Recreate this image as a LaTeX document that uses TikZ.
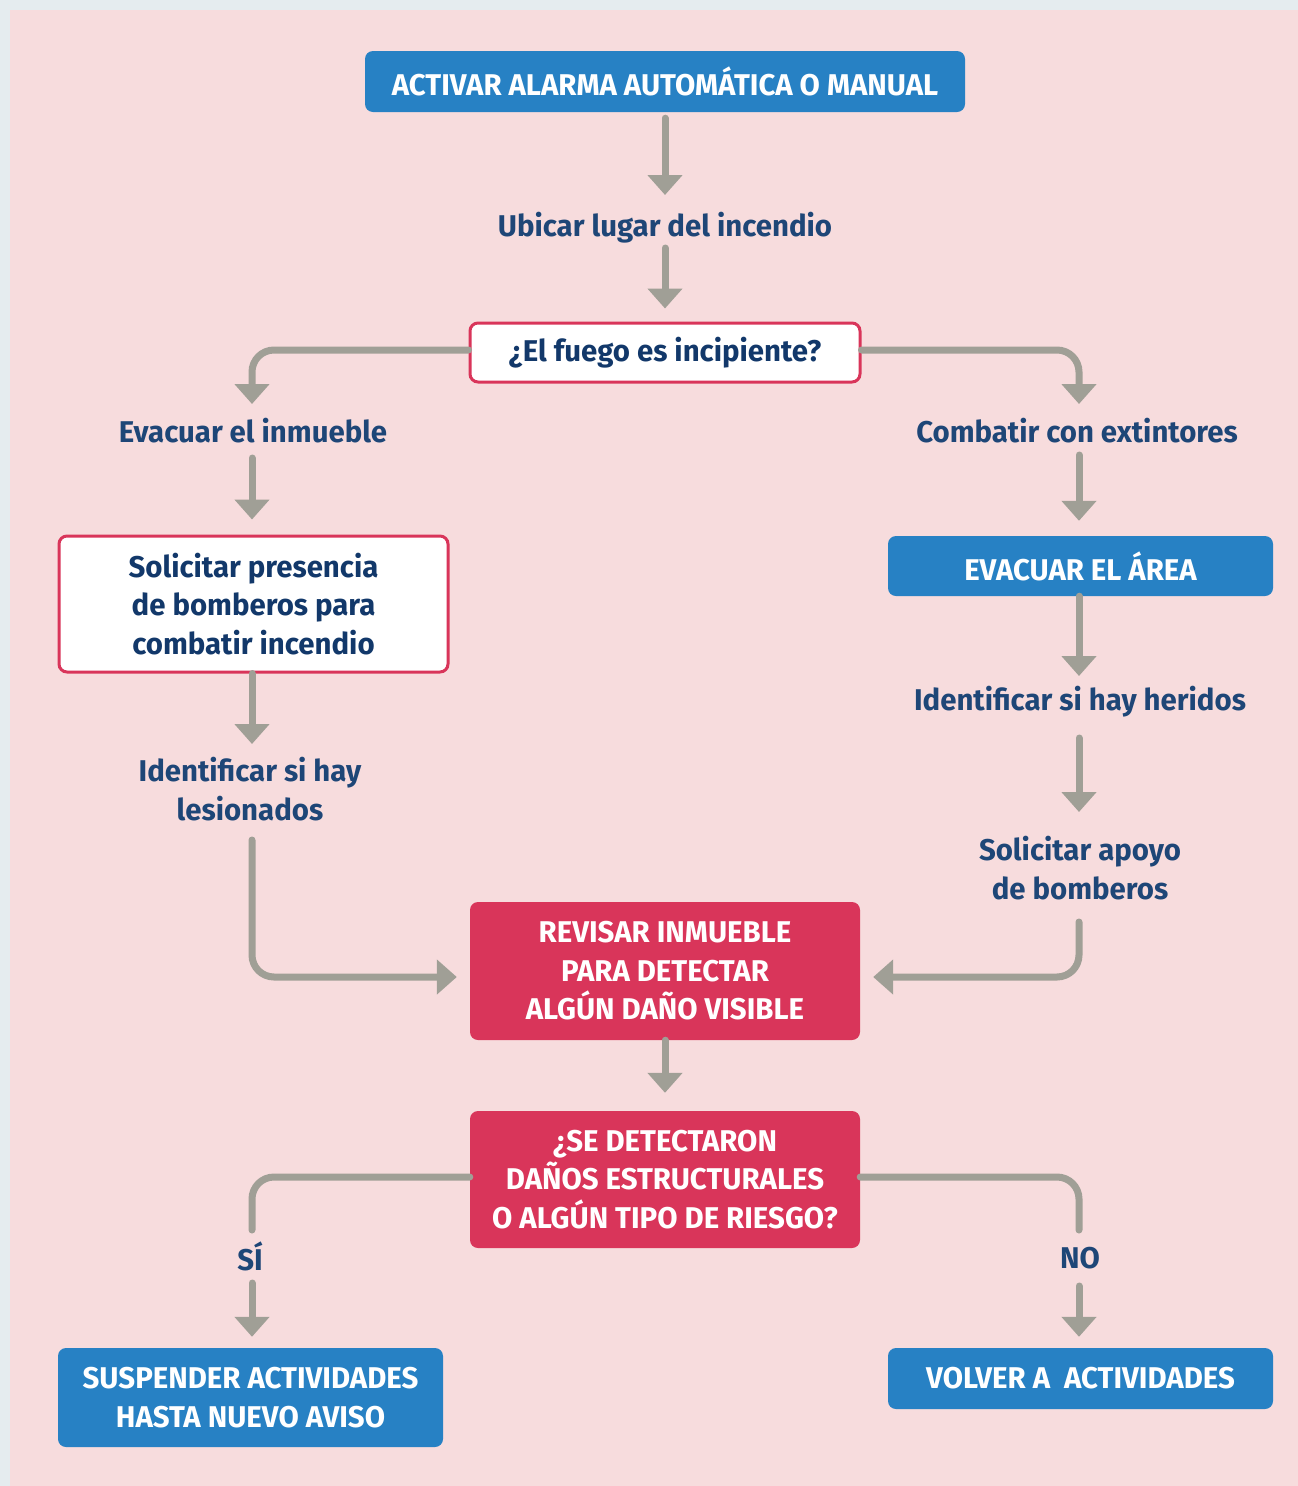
\documentclass[tikz,border=0pt]{standalone}
\usepackage{fontspec}
\setmainfont{Fira Sans}[FakeStretch=0.98]
\usetikzlibrary{arrows.meta,calc}
\definecolor{pinkbg}{HTML}{F7DCDD}
\definecolor{outerbg}{HTML}{E5ECEF}
\definecolor{bluebox}{HTML}{2781C4}
\definecolor{redbox}{HTML}{D9355A}
\definecolor{conncol}{HTML}{A09F96}
\definecolor{navy}{HTML}{1E4677}
\definecolor{navydark}{HTML}{12386A}
\tikzset{
  every node/.style={font=\fontsize{30}{38.5}\selectfont\bfseries, align=center, inner sep=0pt},
  freetext/.style={text=navy},
  bluebx/.style={fill=bluebox, text=white, rounded corners=8pt},
  redbx/.style={fill=redbox, text=white, rounded corners=8pt},
  whitebx/.style={fill=white, draw=redbox, line width=3pt, text=navydark, rounded corners=8pt},
  conn/.style={draw=conncol, line width=7pt, line cap=round, rounded corners=22pt},
  arr/.style={conn, -{Triangle[width=34pt,length=20pt]}},
}
\begin{document}
\begin{tikzpicture}[x=1pt,y=-1pt]
\useasboundingbox (0,0) rectangle (1298,1486);
\fill[outerbg] (0,0) rectangle (1298,1486);
\fill[pinkbg] (10,10) rectangle (1298,1486);

% nodes
\node[bluebx, minimum width=600pt, minimum height=61pt] (b1) at (665,81.5) {ACTIVAR ALARMA AUTOMÁTICA O MANUAL};
\node[freetext] (ubicar) at (665,228) {Ubicar lugar del incendio};
\node[whitebx, minimum width=390pt, minimum height=59pt] (q1) at (665,352.5) {¿El fuego es incipiente?};
\node[freetext] (evac) at (253,431) {Evacuar el inmueble};
\node[freetext] (comb) at (1077,431) {Combatir con extintores};
\node[whitebx, minimum width=389pt, minimum height=136pt] (solic) at (253.5,604) {Solicitar presencia\\de bomberos para\\combatir incendio};
\node[bluebx, minimum width=385pt, minimum height=60pt] (evarea) at (1080.5,566) {EVACUAR EL ÁREA};
\node[freetext] (ident1) at (250,789) {Identificar si hay\\lesionados};
\node[freetext] (ident2) at (1080,702) {Identificar si hay heridos};
\node[freetext] (apoyo) at (1080,868) {Solicitar apoyo\\de bomberos};
\node[redbx, minimum width=390pt, minimum height=138pt] (rev) at (665,971) {REVISAR INMUEBLE\\PARA DETECTAR\\ALGÚN DAÑO VISIBLE};
\node[redbx, minimum width=390pt, minimum height=137pt] (q2) at (665,1179.5) {¿SE DETECTARON\\DAÑOS ESTRUCTURALES\\O ALGÚN TIPO DE RIESGO?};
\node[freetext] (si) at (250,1256) {SÍ};
\node[freetext] (no) at (1080,1258) {NO};
\node[bluebx, minimum width=385pt, minimum height=99pt] (susp) at (250.5,1397.5) {SUSPENDER ACTIVIDADES\\HASTA NUEVO AVISO};
\node[bluebx, minimum width=385pt, minimum height=61pt] (volver) at (1080.5,1378.5) {VOLVER A\ \ ACTIVIDADES};

% connectors
\draw[arr] ($(b1.south)+(0,6)$) -- ($(ubicar.center)+(0,-33)$);
\draw[arr] ($(ubicar.center)+(0,20)$) -- ($(q1.north)+(0,-13)$);
\draw[arr] ($(q1.west)+(0,-2.5)$) -| ($(evac.center)+(-1,-27)$);
\draw[arr] ($(q1.east)+(0,-2.5)$) -| ($(comb.center)+(2,-27)$);
\draw[arr] ($(evac.center)+(-1,27)$) -- ($(solic.north)+(-1.5,-15)$);
\draw[arr] ($(comb.center)+(2,24)$) -- ($(evarea.north)+(-1.5,-15)$);
\draw[arr] ($(solic.south)+(-1.5,0)$) -- ($(ident1.center)+(2,-45)$);
\draw[arr] ($(evarea.south)+(-1.5,0)$) -- ($(ident2.center)+(-1,-26)$);
\draw[arr] ($(ident2.center)+(-1,36)$) -- ($(apoyo.center)+(-1,-56)$);
\draw[arr] ($(ident1.center)+(2,51)$) |- ($(rev.west)+(-13,6)$);
\draw[arr] ($(apoyo.center)+(-1,54)$) |- ($(rev.east)+(13,6)$);
\draw[arr] (rev.south) -- ($(q2.north)+(0,-18)$);
\draw[conn] ($(q2.west)+(0,-2.5)$) -| ($(si.center)+(2,-26)$);
\draw[arr] ($(si.center)+(2,27)$) -- ($(susp.north)+(1.5,-11)$);
\draw[conn] ($(q2.east)+(0,-2.5)$) -| ($(no.center)+(-1,-28)$);
\draw[arr] ($(no.center)+(-1,28)$) -- ($(volver.north)+(-1.5,-11)$);
\end{tikzpicture}
\end{document}
